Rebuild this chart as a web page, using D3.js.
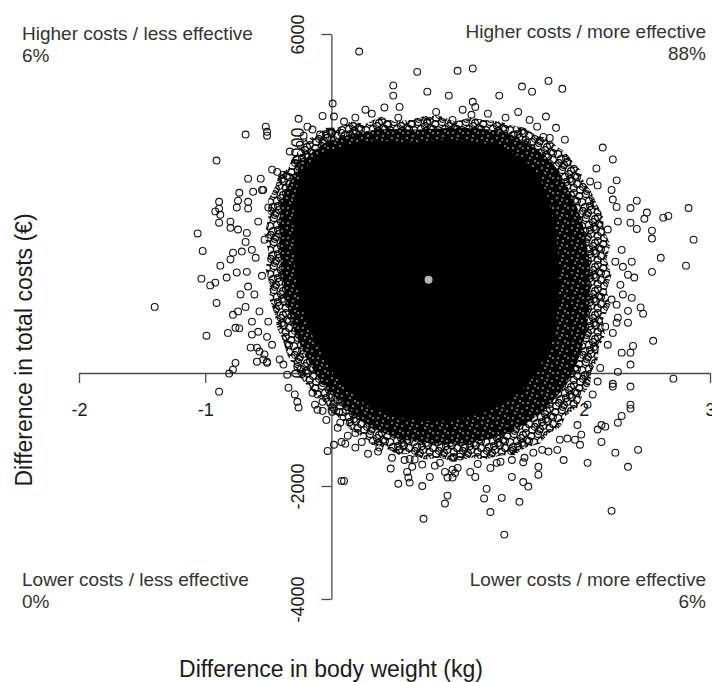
<!DOCTYPE html>
<html>
<head>
<meta charset="utf-8">
<script src="https://cdn.jsdelivr.net/npm/d3@7"></script>
<style>
  html, body { margin: 0; padding: 0; background: #fff; }
  svg { display: block; }
  text { font-family: "Liberation Sans", Arial, Helvetica, sans-serif; fill: #1a1a1a; }
</style>
</head>
<body>
<svg id="plane" width="712" height="682"></svg>
<script>
// Cost-effectiveness plane: bootstrapped differences in body weight (kg) and total costs (€)

const xTicks = [-2, -1, 0, 1, 2, 3];
const yTicks = [-4000, -2000, 0, 2000, 4000, 6000];

// Quadrant labels with the share of replicates in each quadrant
const quadrantNames = ["Higher costs / less effective", "Higher costs / more effective",
                       "Lower costs / less effective", "Lower costs / more effective"];
const quadrantShares = ["6%", "88%", "0%", "6%"];

// Point estimate (difference in body weight, difference in costs)
const estimateX = [0.77];
const estimateY = [1650];

// Region where the replicates overlap completely (solid)
const coreX = [-0.28, -0.21, -0.09, 0.11, 0.35, 0.62, 0.90, 1.18, 1.42, 1.59, 1.70, 1.76, 1.80, 1.80, 1.76,
               1.66, 1.51, 1.31, 1.07, 0.80, 0.54, 0.33, 0.18, 0.04, -0.07, -0.17, -0.25, -0.29, -0.30];
const coreY = [3240, 3600, 3860, 4020, 4110, 4080, 4130, 4080, 3920, 3630, 3210, 2680, 2010, 1300, 680,
               150, -300, -610, -790, -850, -790, -630, -400, -80, 310, 770, 1300, 1920, 2570];

// Almost-solid region around the core
const innerX = [-0.39, -0.31, -0.21, -0.07, 0.15, 0.39, 0.70, 1.02, 1.34, 1.57, 1.75, 1.87, 1.97, 2.03, 2.05, 2.02,
                1.94, 1.81, 1.64, 1.42, 1.14, 0.86, 0.58, 0.35, 0.17, 0.01, -0.12, -0.23, -0.32, -0.38, -0.41];
const innerY = [3070, 3460, 3780, 4040, 4220, 4310, 4310, 4340, 4270, 4040, 3720, 3280, 2800, 2180, 1470, 770,
                150, -350, -740, -1040, -1220, -1250, -1180, -1000, -740, -400, -30, 410, 940, 1560, 2270];

// Ragged outer band of heavily overlapping replicates
const outerX = [-0.50, -0.44, -0.42, -0.34, -0.31, -0.25, -0.21, -0.12, -0.05, 0.05, 0.15, 0.27, 0.39, 0.50,
                0.62, 0.74, 0.86, 0.98, 1.10, 1.22, 1.34, 1.43, 1.53, 1.63, 1.72, 1.79, 1.85, 1.92, 1.97, 2.00,
                2.06, 2.10, 2.15, 2.16, 2.21, 2.18, 2.22, 2.18, 2.21, 2.15, 2.17, 2.12, 2.11, 2.06, 2.05, 1.99,
                1.95, 1.86, 1.81, 1.72, 1.65, 1.54, 1.45, 1.34, 1.22, 1.10, 0.98, 0.86, 0.74, 0.62, 0.53, 0.42,
                0.32, 0.23, 0.15, 0.08, 0.00, -0.06, -0.13, -0.19, -0.25, -0.30, -0.35, -0.38, -0.43, -0.45,
                -0.49, -0.49, -0.52, -0.50, -0.53, -0.50];
const outerY = [3070, 3320, 3510, 3630, 3810, 3950, 4130, 4200, 4340, 4340, 4450, 4410, 4540, 4450,
                4480, 4550, 4550, 4450, 4520, 4480, 4450, 4380, 4340, 4200, 4160, 4000, 3920, 3720, 3600, 3390,
                3210, 3000, 2800, 2540, 2270, 2010, 1740, 1470, 1210, 940, 680, 450, 240, 20, -210, -400,
                -610, -750, -970, -1070, -1250, -1320, -1450, -1460, -1530, -1500, -1570, -1500, -1530, -1420, -1450, -1320,
                -1270, -1110, -1000, -830, -690, -510, -380, -220, -80, 130, 320, 550, 800, 1050,
                1300, 1560, 1830, 2150, 2450, 2750];

// Individual replicates outside the dense band [kg, €]
const replicates = [
  [0.22,5690],[0.01,4770],[-0.07,4550],[0.02,4540],[-0.26,4500],[-0.52,4360],[-0.51,4270],[-0.51,4200],
  [-0.68,4220],[-0.19,4360],[-0.22,4200],[-0.09,4220],[-0.91,3760],[-0.66,3440],[-0.56,3440],[-0.73,3190],
  [-0.62,3210],[-0.54,3240],[-0.43,3560],[-0.38,3510],[0.00,4270],[0.08,4250],[0.17,4250],[-0.07,4090],[0.00,4130],
  [0.68,5330],[1.00,5350],[1.12,5390],[1.72,5170],[1.83,5030],[1.51,5070],[1.59,4980],[0.49,5090],[0.49,4910],
  [0.76,4980],[0.93,4910],[1.33,4910],[0.27,4660],[0.42,4700],[0.54,4710],[1.12,4800],[1.14,4710],[1.11,4570],
  [0.76,4450],[1.70,4540],[2.15,3990],[2.23,3780],[2.10,3620],[2.26,3410],[2.05,3390],[1.87,3720],[1.45,4220],
  [1.53,4060],[1.63,4360],[1.68,4180],[1.73,4160],[1.55,4080],
  [2.11,3320],[2.42,3050],[2.37,2920],[2.50,2840],[2.48,2730],[2.63,2750],[2.67,2780],[2.83,2920],[2.87,2360],
  [2.54,2520],[2.54,2380],[2.37,2660],[2.42,2550],[2.26,2940],[2.23,3070],[2.61,2040],[2.81,1900],[2.54,1790],
  [2.38,1970],[2.35,1740],[2.40,1690],[2.31,1880],[2.38,1330],[2.45,1160],[2.47,1050],[2.35,1100],[2.26,1210],
  [2.31,1390],[2.55,570],[2.39,480],[2.35,890],[2.37,360],[2.30,360],[2.37,150],[2.27,20],[2.71,-100],
  [2.17,820],[2.23,710],[2.26,890],
  [2.37,-240],[2.23,-240],[2.23,-190],[2.37,-560],[2.37,-630],[2.30,-760],[2.27,-880],[2.14,-920],[2.17,-950],
  [2.11,-1000],[2.14,-1220],[2.25,-1410],[2.43,-1360],[2.35,-1660],[2.03,-1590],[2.22,-2440],[1.84,-1540],
  [1.97,-1270],[1.98,-1090],[1.87,-1160],[1.93,-1180],[2.07,-380],[1.64,-1660],[1.64,-1800],[1.52,-1930],
  [1.56,-2010],[1.43,-1840],[1.49,-2280],[1.35,-2210],[1.26,-2460],[1.23,-2050],[1.21,-2220],[1.37,-2860],
  [0.73,-2580],[0.92,-2170],[0.90,-2310],[1.14,-1840],[1.10,-1750],[0.96,-1850],[0.96,-1710],[0.78,-1840],
  [0.72,-2000],[0.62,-1940],[0.53,-1960],[0.61,-1850],[0.47,-1690],[0.29,-1430],[0.38,-1320],[0.64,-1660],
  [0.72,-1620],[0.86,-1590],[1.26,-1680],[1.31,-1590],[1.43,-1540],[1.52,-1580],[1.44,-1360],[1.60,-1410],
  [1.67,-1360],[1.79,-1360],[0.54,-1360],[0.62,-1520],[0.96,-1500],[1.02,-1480],[0.98,-1770],[0.90,-1750],
  [0.92,-1850],[1.05,-1320],[0.58,-1540],[0.57,-1300],[0.60,-1750],
  [0.08,-1910],[0.10,-1910],[0.19,-1320],[-0.03,-1380],[0.02,-1270],[0.08,-1220],[0.11,-1250],[0.07,-880],
  [0.09,-690],[0.19,-700],[0.19,-1060],[0.01,-610],[0.07,-510],[-0.35,-30],[-0.29,-380],[-0.27,-510],
  [-0.26,-610],[-0.15,-350],[-0.11,-380],[-0.13,-560],[-0.07,-510],[-0.07,-670],[-0.89,-330],[-0.76,180],
  [-0.78,60],[-0.81,-10],[-0.27,110],[-0.38,150],[-0.51,180],
  [-0.89,3030],[-0.89,2910],[-0.92,2860],[-0.88,2800],[-0.74,3050],[-0.66,3030],[-0.75,2930],[-0.66,2910],
  [-0.89,2660],[-0.80,2680],[-1.06,2470],[-1.02,2160],[-0.80,2570],[-0.74,2540],[-0.67,2480],[-0.68,2320],
  [-0.78,2130],[-0.71,2150],[-0.63,2180],[-0.88,1900],[-0.80,2010],[-1.03,1670],[-0.96,1550],[-0.92,1600],
  [-0.83,1690],[-0.75,1780],[-0.67,1790],[-0.91,1240],[-1.40,1170],[-0.72,1390],[-0.66,1530],[-0.78,1030],
  [-0.74,1090],[-0.68,1170],[-0.99,660],[-0.82,710],[-0.76,800],[-0.73,790],[-0.64,450],[-0.57,380],
  [-0.54,240],[-0.59,200],[-0.51,200],[-0.63,910],[-0.58,730],[-0.51,640],[-0.59,450],[-0.53,330],
  // replicates along the edge of the dense band
  [0.45,4390],[0.53,4520],[0.64,4410],[0.83,4620],[0.96,4480],[1.04,4660],[1.24,4590],[1.38,4520],
  [1.48,4620],[1.57,4480],[1.78,4340],[1.85,4130],[0.32,4590],[0.19,4520],[0.10,4450],[-0.15,4310],
  [-0.25,4040],[-0.33,3920],
  [-0.47,3600],[-0.55,3240],[-0.50,2930],[-0.58,2680],[-0.53,2360],[-0.60,2040],[-0.55,1720],[-0.61,1390],
  [-0.57,1090],[-0.50,910],[-0.63,680],[-0.47,500],[-0.41,240],[-0.34,-260],
  [2.22,3240],[2.27,2680],[2.19,2540],[2.30,2180],[2.25,1970],[2.29,1560],[2.22,1300],[2.27,980],
  [2.19,500],[2.13,90],[2.11,-150],[2.03,-560],[1.95,-920],
  [1.81,-1180],[1.72,-1390],[1.53,-1500],[1.34,-1570],[1.16,-1610],[1.00,-1680],[0.82,-1640],[0.66,-1530],
  [0.48,-1500],[0.37,-1390],[0.24,-1220],[0.13,-1110],[0.05,-970],[-0.04,-830],[-0.11,-650]
];

const svg = d3.select("#plane");
const x = d3.scaleLinear().domain([-2, 3]).range([79, 710]);
const y = d3.scaleLinear().domain([-4000, 6000]).range([599, 34]);

const axisColor = "#4a4a4a";
const ringR = 3.4;

// Fill textures: overlapping open rings, and black with small gaps
const defs = svg.append("defs");
const ringTile = 24;
const ringCentres = [[3,4],[10,2],[17,6],[22,1],[6,10],[13,9],[20,13],[1,16],[9,15],[15,18],[22,20],
                     [4,22],[12,21],[18,11],[7,19],[19,3],[1,9],[14,14],[23,8],[11,23]];
const rings = defs.append("pattern")
  .attr("id", "rings").attr("patternUnits", "userSpaceOnUse")
  .attr("width", ringTile).attr("height", ringTile);
ringCentres.forEach(([cx, cy]) => {
  [-1, 0, 1].forEach(i => [-1, 0, 1].forEach(j => {
    rings.append("circle")
      .attr("cx", cx + i * ringTile).attr("cy", cy + j * ringTile).attr("r", ringR)
      .attr("fill", "none").attr("stroke", "#000").attr("stroke-width", 1.1);
  }));
});
const speckTile = 15;
const speck = defs.append("pattern")
  .attr("id", "speck").attr("patternUnits", "userSpaceOnUse")
  .attr("width", speckTile).attr("height", speckTile);
speck.append("rect").attr("width", speckTile).attr("height", speckTile).attr("fill", "#000");
[[2,3],[8,1],[12,6],[5,8],[10,11],[3,13],[7,5],[13,13]].forEach(([cx, cy]) => {
  speck.append("circle").attr("cx", cx).attr("cy", cy).attr("r", 0.8).attr("fill", "#fff");
});

// Axes crossing at the origin
const fmt = d => String(d);
const xAxis = svg.append("g")
  .attr("transform", `translate(0,${y(0)})`)
  .call(d3.axisBottom(x).tickValues(xTicks).tickSize(10).tickSizeOuter(0).tickPadding(20).tickFormat(fmt));
const yAxis = svg.append("g")
  .attr("transform", `translate(${x(0)},0)`)
  .call(d3.axisLeft(y).tickValues(yTicks).tickSize(10).tickSizeOuter(0).tickFormat(fmt));

[xAxis, yAxis].forEach(g => {
  g.select(".domain").attr("stroke", axisColor).attr("stroke-width", 1.3);
  g.selectAll(".tick line").attr("stroke", axisColor).attr("stroke-width", 1.3);
  g.selectAll(".tick text").attr("fill", "#1a1a1a").style("font-size", "18px")
    .style("font-family", "'Liberation Sans', Arial, sans-serif");
});
yAxis.selectAll(".tick text")
  .attr("x", 0).attr("y", -27).attr("dy", 0)
  .attr("text-anchor", "middle")
  .attr("transform", "rotate(-90)");

// Replicate cloud: outer band, almost-solid band, solid core
const zip = (xs, ys) => xs.map((v, i) => [v, ys[i]]);
const ragged = d3.line().x(d => x(d[0])).y(d => y(d[1])).curve(d3.curveLinearClosed);
const smooth = d3.line().x(d => x(d[0])).y(d => y(d[1])).curve(d3.curveCatmullRomClosed);
svg.append("path").datum(zip(outerX, outerY)).attr("d", ragged).attr("fill", "url(#rings)");
svg.append("path").datum(zip(innerX, innerY)).attr("d", smooth).attr("fill", "url(#speck)");
svg.append("path").datum(zip(coreX, coreY)).attr("d", smooth).attr("fill", "#000");

// Individual replicates
svg.append("g").selectAll("circle")
  .data(replicates)
  .join("circle")
  .attr("cx", d => x(d[0]))
  .attr("cy", d => y(d[1]))
  .attr("r", ringR)
  .attr("fill", "none")
  .attr("stroke", "#111")
  .attr("stroke-width", 1.1);

// Point estimate
svg.append("circle")
  .attr("cx", x(estimateX[0])).attr("cy", y(estimateY[0]))
  .attr("r", 4).attr("fill", "#b3b3b3");

// Quadrant labels
const corners = [
  { ax: 22, anchor: "start", y0: 40 },
  { ax: 706, anchor: "end", y0: 38 },
  { ax: 22, anchor: "start", y0: 586 },
  { ax: 706, anchor: "end", y0: 586 }
];
corners.forEach((c, i) => {
  const t = svg.append("text").attr("text-anchor", c.anchor)
    .style("font-size", "19px").style("fill", "#333");
  t.append("tspan").attr("x", c.ax).attr("y", c.y0).text(quadrantNames[i]);
  t.append("tspan").attr("x", c.ax).attr("y", c.y0 + 22).text(quadrantShares[i]);
});

// Axis titles
svg.append("text")
  .attr("x", 331).attr("y", 677)
  .attr("text-anchor", "middle")
  .style("font-size", "23px")
  .text("Difference in body weight (kg)");
svg.append("text")
  .attr("transform", "translate(32,350) rotate(-90)")
  .attr("text-anchor", "middle")
  .style("font-size", "23px")
  .text("Difference in total costs (€)");
</script>
</body>
</html>
